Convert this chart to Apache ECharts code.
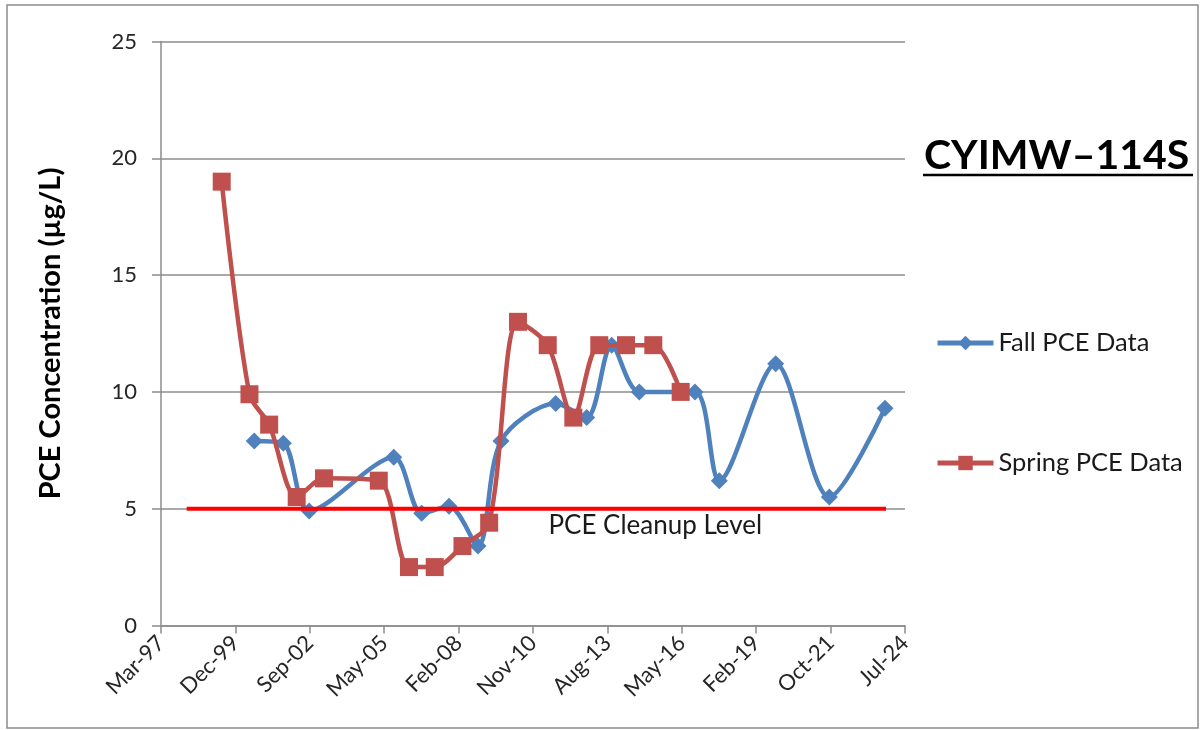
<!DOCTYPE html>
<html>
<head>
<meta charset="utf-8">
<script src="https://cdn.jsdelivr.net/npm/echarts@6/dist/echarts.min.js"></script>
<style>
  html, body { margin: 0; padding: 0; background: #fff; }
  #chart { width: 1201px; height: 730px; }
</style>
</head>
<body>
<div id="chart"></div>
<script>
// axis runs from 11 Mar 1997 in steps of 1000 days (Excel date axis)
var axisStart = '1997-03-11';
var tickDays = 1000;
var axisDays = 10000;
var yTicks = [0, 5, 10, 15, 20, 25];

var fallDates = ['2000-08-15', '2001-09-10', '2002-08-24', '2005-10-03', '2006-10-14', '2007-10-16',
                 '2008-11-09', '2009-09-14', '2011-09-19', '2012-11-09', '2013-10-11', '2014-10-17',
                 '2016-11-03', '2017-09-26', '2019-10-24', '2021-10-14', '2023-11-01'];
var fallPCE = [7.9, 7.8, 4.9, 7.2, 4.8, 5.1, 3.4, 7.9, 9.5, 8.9, 12, 10, 10, 6.2, 11.2, 5.5, 9.3];

var springDates = ['1999-06-05', '2000-06-12', '2001-03-04', '2002-03-09', '2003-03-11', '2005-03-16',
                   '2006-04-26', '2007-04-07', '2008-04-14', '2009-04-08', '2010-04-30', '2011-06-04',
                   '2012-05-13', '2013-04-27', '2014-04-21', '2015-04-23', '2016-04-25'];
var springPCE = [19, 9.9, 8.6, 5.5, 6.3, 6.2, 2.5, 2.5, 3.4, 4.4, 13, 12, 8.9, 12, 12, 12, 10];

var cleanupDates = ['1998-02-19', '2023-11-15'];
var cleanupLevel = 5;
var cleanupLabelDate = '2015-05-20';

var months = ['Jan','Feb','Mar','Apr','May','Jun','Jul','Aug','Sep','Oct','Nov','Dec'];
var DAY = 86400000;
function ts(s) {
    var p = s.split('-');
    return Date.UTC(+p[0], +p[1] - 1, +p[2]);
}
var t0 = ts(axisStart);
function dayNo(s) { return Math.round((ts(s) - t0) / DAY); }
function pairs(dates, vals) {
    return dates.map(function (d, i) { return [dayNo(d), vals[i]]; });
}

var font = 'Lato, "Open Sans", sans-serif';
var gray = '#8c8c8c';

var dom = document.getElementById('chart');
var myChart = echarts.init(dom);
var option = {
    animation: false,
    backgroundColor: '#fff',
    title: {
        text: 'CYIMW\u2013114S',
        left: 919,
        top: 130,
        textStyle: { fontFamily: font, fontSize: 41, fontWeight: 'bold', color: '#000' }
    },
    graphic: [
        { type: 'line', shape: { x1: 923, y1: 175, x2: 1193, y2: 175 },
          style: { stroke: '#000', lineWidth: 2.5 } },
        { type: 'rect', shape: { x: 7, y: 5, width: 1191, height: 723 },
          style: { fill: null, stroke: gray, lineWidth: 1.5 } }
    ],
    legend: {
        orient: 'vertical',
        left: 930,
        top: 325,
        itemGap: 94,
        itemWidth: 56,
        itemHeight: 18,
        data: ['Fall PCE Data', 'Spring PCE Data'],
        lineStyle: { width: 5 },
        textStyle: { fontFamily: font, fontSize: 25.5, color: '#1a1a1a' }
    },
    grid: { left: 161, right: 296, top: 41.5, bottom: 104.5, containLabel: false },
    xAxis: {
        type: 'value',
        min: 0,
        max: axisDays,
        interval: tickDays,
        axisLine: { lineStyle: { color: gray, width: 1.5 } },
        axisTick: { length: 8, lineStyle: { color: gray, width: 1.5 } },
        splitLine: { show: false },
        axisLabel: {
            rotate: 45,
            margin: 14,
            fontFamily: font,
            fontSize: 22,
            color: '#262626',
            formatter: function (v) {
                var d = new Date(t0 + v * DAY);
                return months[d.getUTCMonth()] + '-' + String(d.getUTCFullYear() % 100).padStart(2, '0');
            }
        }
    },
    yAxis: {
        type: 'value',
        min: yTicks[0],
        max: yTicks[yTicks.length - 1],
        interval: yTicks[1] - yTicks[0],
        name: 'PCE Concentration (\u00b5g/L)',
        nameLocation: 'middle',
        nameGap: 96,
        nameTextStyle: { fontFamily: font, fontSize: 29, fontWeight: 'bold', color: '#000' },
        axisLine: { show: true, lineStyle: { color: gray, width: 1.5 } },
        axisTick: { show: true, length: 9, lineStyle: { color: gray, width: 1.5 } },
        splitLine: { lineStyle: { color: gray, width: 1.5 } },
        axisLabel: { margin: 24, fontFamily: font, fontSize: 22, color: '#262626' }
    },
    series: [
        {
            name: 'Fall PCE Data',
            type: 'line',
            smooth: 0.3,
            symbol: 'diamond',
            symbolSize: 17,
            itemStyle: { color: '#4F81BD' },
            lineStyle: { width: 4.5, color: '#4F81BD' },
            data: pairs(fallDates, fallPCE),
            z: 2
        },
        {
            name: 'Spring PCE Data',
            type: 'line',
            smooth: 0.3,
            symbol: 'rect',
            symbolSize: 18,
            itemStyle: { color: '#C0504D' },
            lineStyle: { width: 4.5, color: '#C0504D' },
            data: pairs(springDates, springPCE),
            z: 3
        },
        {
            name: 'PCE Cleanup Level',
            type: 'line',
            symbol: 'none',
            lineStyle: { width: 4, color: '#FF0000' },
            data: cleanupDates.map(function (d) { return [dayNo(d), cleanupLevel]; }),
            markPoint: {
                symbol: 'rect',
                symbolSize: 1,
                itemStyle: { color: 'rgba(0,0,0,0)' },
                label: {
                    show: true,
                    position: 'bottom',
                    distance: 3,
                    formatter: 'PCE Cleanup Level',
                    fontFamily: font,
                    fontSize: 26,
                    color: '#1a1a1a'
                },
                data: [{ coord: [dayNo(cleanupLabelDate), cleanupLevel] }]
            },
            z: 4
        }
    ]
};
if (option && typeof option === 'object') {
    myChart.setOption(option, true);
}
</script>
</body>
</html>
